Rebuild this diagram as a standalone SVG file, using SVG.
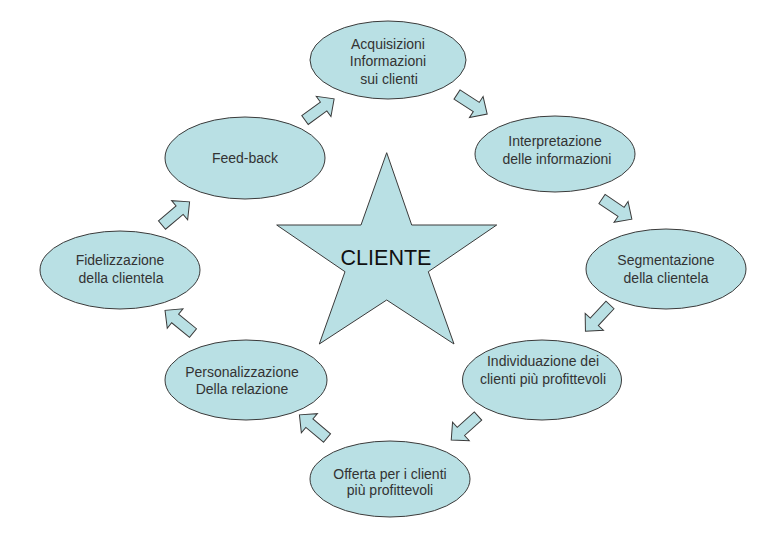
<svg xmlns="http://www.w3.org/2000/svg" xmlns:xlink="http://www.w3.org/1999/xlink" width="782" height="537" viewBox="0 0 782 537">
<style>
.shape{fill:#b9e0e4;stroke:#3a3a3a;stroke-width:1}
.t{font-family:"Liberation Sans",Arial,sans-serif;font-size:14px;fill:#333333;text-anchor:middle}
.big{font-family:"Liberation Sans",Arial,sans-serif;font-size:21.5px;fill:#111111;text-anchor:middle}
</style>
<defs>
<path id="arr" d="M0,-5.5 H23 V-12.5 L36,0 L23,12.5 V5.5 H0 Z"/>
</defs>
<rect width="782" height="537" fill="#ffffff"/>
<g id="connectors" class="shape">
<use xlink:href="#arr" href="#arr" transform="translate(457,94.5) rotate(33)"/>
<use xlink:href="#arr" href="#arr" transform="translate(602,199) rotate(34)"/>
<use xlink:href="#arr" href="#arr" transform="translate(610,305) rotate(133)"/>
<use xlink:href="#arr" href="#arr" transform="translate(478,416) rotate(138)"/>
<use xlink:href="#arr" href="#arr" transform="translate(327,438) rotate(220)"/>
<use xlink:href="#arr" href="#arr" transform="translate(193,333) rotate(219)"/>
<use xlink:href="#arr" href="#arr" transform="translate(162,225) rotate(-40)"/>
<use xlink:href="#arr" href="#arr" transform="translate(305,120) rotate(-36)"/>
</g>
<g id="cliente">
<polygon class="shape" points="386.7,152.7 411.7,225 496.7,225 428.3,271.7 454,344 386.7,300 319.3,344 345,271.7 276.7,225 361,225"/>
<text class="big" x="386" y="265">CLIENTE</text>
</g>
<g id="acquisizioni">
<ellipse class="shape" cx="388" cy="60" rx="78" ry="39"/>
<text class="t" x="388" y="49">Acquisizioni</text>
<text class="t" x="388" y="66">Informazioni</text>
<text class="t" x="389" y="84">sui clienti</text>
</g>
<g id="interpretazione">
<ellipse class="shape" cx="555" cy="154" rx="80" ry="38"/>
<text class="t" x="555" y="146">Interpretazione</text>
<text class="t" x="557" y="164">delle informazioni</text>
</g>
<g id="segmentazione">
<ellipse class="shape" cx="666" cy="269" rx="80" ry="40"/>
<text class="t" x="666" y="265">Segmentazione</text>
<text class="t" x="666" y="283">della clientela</text>
</g>
<g id="individuazione">
<ellipse class="shape" cx="542" cy="380" rx="79.5" ry="40"/>
<text class="t" x="543" y="366">Individuazione dei</text>
<text class="t" x="543" y="384">clienti più profittevoli</text>
</g>
<g id="offerta">
<ellipse class="shape" cx="390" cy="479" rx="80" ry="38"/>
<text class="t" x="390" y="479">Offerta per i clienti</text>
<text class="t" x="390" y="495">più profittevoli</text>
</g>
<g id="personalizzazione">
<ellipse class="shape" cx="246" cy="380" rx="81" ry="40"/>
<text class="t" x="242" y="377">Personalizzazione</text>
<text class="t" x="242" y="394">Della relazione</text>
</g>
<g id="fidelizzazione">
<ellipse class="shape" cx="120" cy="270" rx="80" ry="39"/>
<text class="t" x="120" y="265">Fidelizzazione</text>
<text class="t" x="121" y="283">della clientela</text>
</g>
<g id="feedback">
<ellipse class="shape" cx="245" cy="158" rx="80" ry="41"/>
<text class="t" x="245" y="163">Feed-back</text>
</g>
</svg>
